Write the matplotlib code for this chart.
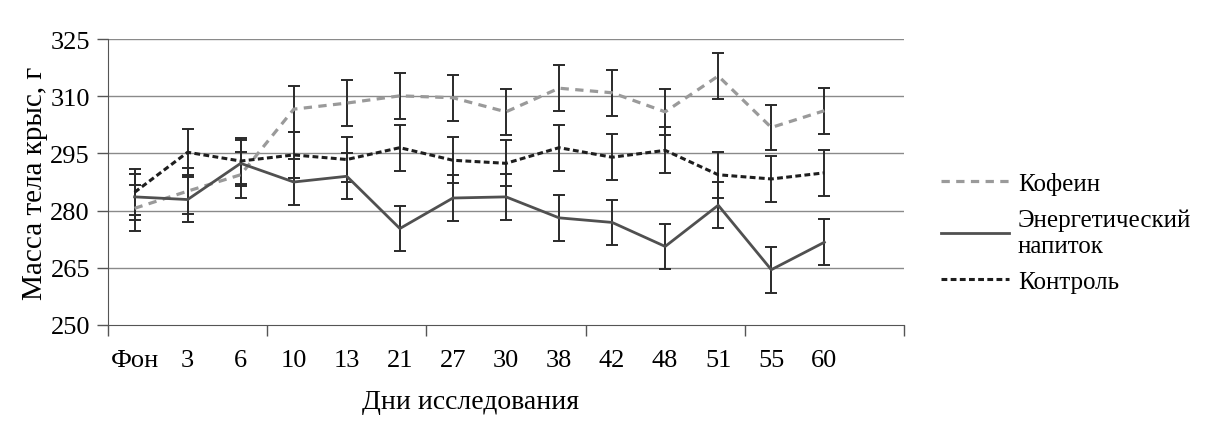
import matplotlib
matplotlib.use('Agg')
import matplotlib.pyplot as plt
from matplotlib.lines import Line2D
import numpy as np

plt.rcParams['font.family'] = ['Liberation Serif', 'DejaVu Serif']

# data
days = ['Фон', '3', '6', '10', '13', '21', '27', '30', '38', '42', '48', '51', '55', '60']
kofein = [280.6, 285.1, 289.4, 306.6, 308.2, 310.1, 309.6, 305.9, 312.1, 310.9, 305.9, 315.3, 301.8, 306.2]
energy = [283.6, 282.9, 292.4, 287.5, 289.0, 275.3, 283.3, 283.6, 278.1, 276.9, 270.6, 281.4, 264.5, 271.7]
control = [284.8, 295.3, 293.0, 294.6, 293.4, 296.5, 293.2, 292.4, 296.5, 294.0, 295.8, 289.4, 288.3, 289.9]
kofein_err = [6, 6, 6, 6, 6, 6, 6, 6, 6, 6, 6, 6, 6, 6]
energy_err = [6, 6, 6, 6, 6, 6, 6, 6, 6, 6, 6, 6, 6, 6]
control_err = [6, 6, 6, 6, 6, 6, 6, 6, 6, 6, 6, 6, 6, 6]
yticks = [250, 265, 280, 295, 310, 325]
names = ['Кофеин', 'Энергетический\nнапиток', 'Контроль']

fs = 19
fig = plt.figure(figsize=(12.14, 4.35), dpi=100)
ax = fig.add_axes([0.089, 0.2506, 0.6556, 0.6574])

x = np.arange(len(days))
ebar = dict(ecolor='#2a2a2a', elinewidth=1.4, capsize=4, capthick=1.4, zorder=4)

st_k = dict(color='#9a9a9a', linewidth=2.3, dashes=(2.6, 2.0))
st_e = dict(color='#505050', linewidth=2.0)
st_c = dict(color='#1e1e1e', linewidth=2.2, dashes=(1.9, 1.1))

ax.errorbar(x, kofein, yerr=kofein_err, **st_k, **ebar)
ax.errorbar(x, energy, yerr=energy_err, **st_e, **ebar)
ax.errorbar(x, control, yerr=control_err, **st_c, **ebar)

for y in yticks[1:]:
    ax.axhline(y, color='#8a8a8a', linewidth=1.0, zorder=1)

ax.set_ylim(250, 325)
ax.set_xlim(-0.5, 14.5)
ax.set_yticks(yticks)
ax.set_xticks([-0.5, 2.5, 5.5, 8.5, 11.5, 14.5])
ax.set_xticklabels([])
ax.set_xticks(x, minor=True)
ax.set_xticklabels(days, minor=True)

for s in ['top', 'right']:
    ax.spines[s].set_visible(False)
ax.spines['left'].set_color('#555555')
ax.spines['bottom'].set_color('#555555')

ax.tick_params(axis='both', which='major', direction='out', length=8, width=1, color='#555555', labelsize=fs)
ax.tick_params(axis='y', pad=5)
ax.tick_params(axis='x', which='minor', length=0, labelsize=fs, pad=17)

ax.set_ylabel('Масса тела крыс, г', size=21, labelpad=2)
ax.set_xlabel('Дни исследования', size=20)
ax.xaxis.set_label_coords(0.455, -0.225)

handles = [Line2D([], [], **st_k), Line2D([], [], **st_e), Line2D([], [], **st_c)]
leg = ax.legend(handles, names, loc='center left', bbox_to_anchor=(0.757, 0.463), bbox_transform=fig.transFigure,
                frameon=False, fontsize=18, handlelength=2.7, handletextpad=0.35,
                labelspacing=0.55)

plt.savefig('out.png', dpi=100)
